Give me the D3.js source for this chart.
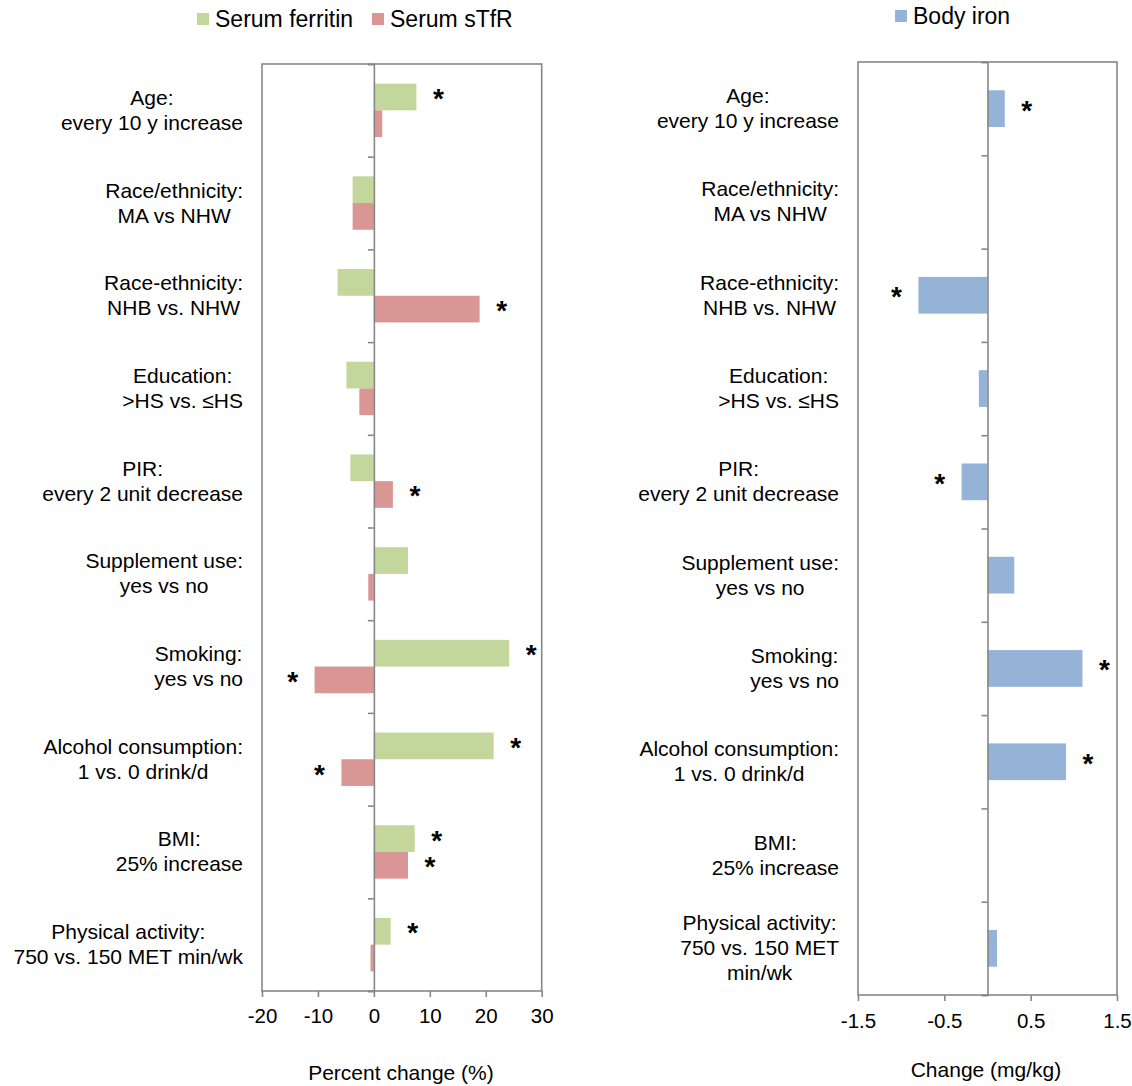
<!DOCTYPE html>
<html>
<head>
<meta charset="utf-8">
<script src="https://cdn.jsdelivr.net/npm/d3@7"></script>
<style>
  body { margin: 0; background: #fff; }
  svg { font-family: "Liberation Sans", Arial, sans-serif; }
</style>
</head>
<body>
<div id="chart"></div>
<script>

// labels (left panel and right panel wrap one label differently)
const labelsLeft = [
    "Age:\nevery 10 y increase",
    "Race/ethnicity:\nMA vs NHW",
    "Race-ethnicity:\nNHB vs. NHW",
    "Education:\n>HS vs. ≤HS",
    "PIR:\nevery 2 unit decrease",
    "Supplement use:\nyes vs no",
    "Smoking:\nyes vs no",
    "Alcohol consumption:\n1 vs. 0 drink/d",
    "BMI:\n25% increase",
    "Physical activity:\n750 vs. 150 MET min/wk"
];
const labelsRight = [
    "Age:\nevery 10 y increase",
    "Race/ethnicity:\nMA vs NHW",
    "Race-ethnicity:\nNHB vs. NHW",
    "Education:\n>HS vs. ≤HS",
    "PIR:\nevery 2 unit decrease",
    "Supplement use:\nyes vs no",
    "Smoking:\nyes vs no",
    "Alcohol consumption:\n1 vs. 0 drink/d",
    "BMI:\n25% increase",
    "Physical activity:\n750 vs. 150 MET\nmin/wk"
];

const ferritin = [7.6, -3.8, -6.5, -4.9, -4.2, 6.1, 24.2, 21.4, 7.3, 3.0];
const stfr = [1.5, -3.8, 18.9, -2.6, 3.4, -1.0, -10.6, -5.8, 6.1, -0.6];
const bodyIron = [0.2, 0, -0.8, -0.1, -0.3, 0.31, 1.1, 0.91, 0, 0.11];

// 1 = marked with * in the figure
const ferritinSig = [1, 0, 0, 0, 0, 0, 1, 1, 1, 1];
const stfrSig = [0, 0, 1, 0, 1, 0, 1, 1, 1, 0];
const ironSig = [1, 0, 1, 0, 1, 0, 1, 1, 0, 0];

const leftTicks = [-20, -10, 0, 10, 20, 30];
const rightTicks = [-1.5, -0.5, 0.5, 1.5];

const GREEN = "#c3d69b", RED = "#d99694", BLUE = "#95b3d7", GRAY = "#878787";

let svg = d3.select("#chart").append("svg")
    .attr("width", 1132)
    .attr("height", 1086);

let drawPanel = function(opt) {

    let x = d3.scaleLinear().domain(opt.domain).range([opt.x0, opt.x1]);
    let y = d3.scaleBand().domain(d3.range(opt.labels.length)).range([opt.y0, opt.y1]);
    let sub = d3.scaleBand().domain(d3.range(opt.series.length))
        .range([0, y.bandwidth()]).paddingOuter(opt.subPad);

    let g = svg.append("g");

    // frame
    g.append("rect")
        .attr("x", opt.x0).attr("y", opt.y0)
        .attr("width", opt.x1 - opt.x0).attr("height", opt.y1 - opt.y0)
        .attr("fill", "none").attr("stroke", GRAY).attr("stroke-width", 1.6);

    // bars
    opt.series.forEach(function(s, si) {
        g.append("g").selectAll("rect")
            .data(s.values)
            .enter().append("rect")
            .attr("x", function(d) { return x(Math.min(0, d)); })
            .attr("y", function(d, i) { return y(i) + sub(si); })
            .attr("width", function(d) { return Math.abs(x(d) - x(0)); })
            .attr("height", sub.bandwidth())
            .attr("fill", s.color);

        g.append("g").selectAll("text")
            .data(s.values.map(function(v, i) { return { v: v, i: i, sig: s.sig[i] }; })
                .filter(function(d) { return d.sig; }))
            .enter().append("text")
            .attr("x", function(d) { return x(d.v) + (d.v >= 0 ? 22 : -22); })
            .attr("y", function(d) { return y(d.i) + sub(si) + sub.bandwidth() / 2 + 11; })
            .attr("text-anchor", "middle")
            .attr("font-size", 28)
            .attr("font-weight", "bold")
            .text("*");
    });

    // zero line with category ticks
    let cat = d3.scaleLinear().domain([0, opt.labels.length]).range([opt.y0, opt.y1]);
    let zeroAxis = g.append("g")
        .attr("transform", "translate(" + x(0) + ",0)")
        .call(d3.axisLeft(cat).tickValues(d3.range(opt.labels.length + 1))
            .tickFormat("").tickSizeOuter(0).tickSize(6));
    zeroAxis.selectAll("path, line").attr("stroke", GRAY).attr("stroke-width", 1.6);

    // x axis
    let xAxis = g.append("g")
        .attr("transform", "translate(0," + opt.y1 + ")")
        .call(d3.axisBottom(x).tickValues(opt.ticks)
            .tickFormat(function(d) { return String(d); })
            .tickSize(6).tickPadding(opt.tickPad));
    xAxis.select(".domain").remove();
    xAxis.selectAll("line").attr("stroke", GRAY).attr("stroke-width", 1.6);
    xAxis.selectAll("text")
        .attr("font-family", "'Liberation Sans', Arial, sans-serif")
        .attr("font-size", 20.5).attr("fill", "#000");

    // axis title
    g.append("text")
        .attr("x", opt.titleX).attr("y", opt.titleY)
        .attr("text-anchor", "middle")
        .attr("font-size", 21)
        .text(opt.title);

    // category labels, each block centred on its widest line and right-aligned
    opt.labels.forEach(function(lab, i) {
        let lines = lab.split("\n");
        let t = g.append("text")
            .attr("font-size", 21)
            .attr("text-anchor", "middle");
        let spans = t.selectAll("tspan").data(lines).enter().append("tspan").text(function(d) { return d; });
        let maxW = 0;
        spans.each(function() { maxW = Math.max(maxW, this.getComputedTextLength()); });
        let cy = y(i) + y.bandwidth() / 2;
        let firstBase = cy - (lines.length - 1) * 12.5 + 7;
        spans.attr("x", opt.labelRight - maxW / 2)
            .attr("y", function(d, k) { return firstBase + k * 25; });
    });

    // legend
    opt.legend.forEach(function(l) {
        g.append("rect")
            .attr("x", l.x).attr("y", l.y - 14)
            .attr("width", 12).attr("height", 12)
            .attr("fill", l.color);
        g.append("text")
            .attr("x", l.x + 18).attr("y", l.y)
            .attr("font-size", 23)
            .text(l.name);
    });
};

drawPanel({
    labels: labelsLeft,
    domain: [-20, 30], ticks: leftTicks,
    x0: 262, x1: 541.7, y0: 64, y1: 991,
    subPad: 0.736, tickPad: 11,
    labelRight: 243,
    series: [
        { values: ferritin, sig: ferritinSig, color: GREEN },
        { values: stfr, sig: stfrSig, color: RED }
    ],
    title: "Percent change (%)", titleX: 401, titleY: 1080,
    legend: [
        { x: 197, y: 27, color: GREEN, name: "Serum ferritin" },
        { x: 372, y: 27, color: RED, name: "Serum sTfR" }
    ]
});

drawPanel({
    labels: labelsRight,
    domain: [-1.5, 1.5], ticks: rightTicks,
    x0: 858, x1: 1117, y0: 62, y1: 995,
    subPad: 0.77, tickPad: 12,
    labelRight: 839,
    series: [
        { values: bodyIron, sig: ironSig, color: BLUE }
    ],
    title: "Change (mg/kg)", titleX: 986, titleY: 1077,
    legend: [
        { x: 895, y: 24, color: BLUE, name: "Body iron" }
    ]
});

</script>
</body>
</html>
